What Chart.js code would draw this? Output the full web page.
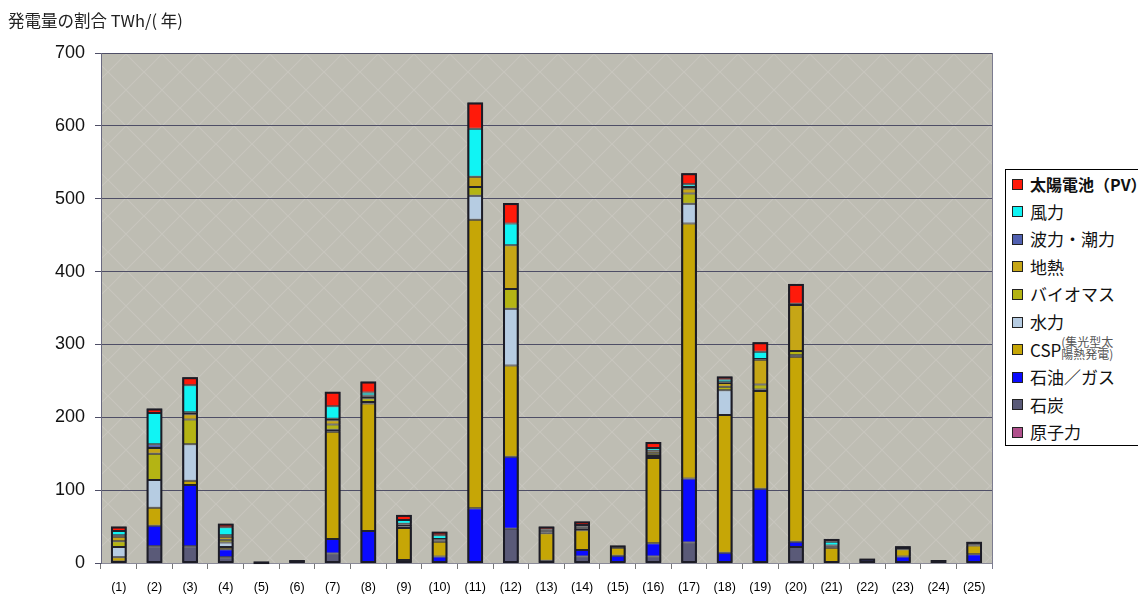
<!DOCTYPE html>
<html lang="ja">
<head>
<meta charset="utf-8">
<script src="https://cdn.jsdelivr.net/npm/chart.js@4.4.1/dist/chart.umd.min.js"></script>
<style>
  html, body { margin: 0; padding: 0; background: #fff; overflow: hidden; }
  #wrap { position: relative; width: 1138px; height: 594px; }
  #chart { position: absolute; left: 0; top: 0; }
  #legend {
    position: absolute; left: 1005px; top: 169px; width: 150px; height: 277px;
    border: 1px solid #000; background: #fff; box-sizing: border-box;
    font-family: "Noto Sans CJK JP", "DejaVu Sans", sans-serif; color: #111;
  }
  .item { position: absolute; left: 0; height: 22px; display: flex; align-items: center; white-space: nowrap; font-size: 17px; line-height: 22px; }
  .sw { width: 9px; height: 9px; border: 1px solid #222; margin-left: 6px; margin-right: 7px; flex: none; }
  .small { display: inline-block; font-size: 12px; line-height: 12px; color: #555; margin-left: 0; position: relative; top: -2px; }
</style>
</head>
<body>
<div id="wrap">
  <canvas id="chart" width="1138" height="594"></canvas>
  <div id="legend"></div>
</div>
<script>
// Categories (regions) along the x axis
const categories = ['(1)','(2)','(3)','(4)','(5)','(6)','(7)','(8)','(9)','(10)','(11)','(12)','(13)',
                    '(14)','(15)','(16)','(17)','(18)','(19)','(20)','(21)','(22)','(23)','(24)','(25)'];

// Generation by source, TWh per year (stacked from the bottom)
const nuclear = [0,0,0,0,0,0,0,0,0,0,0,0,0,0,0,0,0,0,0,0,0,0,0,0,0];
const coal    = [2,23,23,8,1,1,13,0,0,0,0,47,0,9,0,9,28,0,0,22,0,2,0,2,0];
const oilGas  = [0,28,84,11,1,2,20,44,4,9,75,99,3,9,10,18,88,14,102,7,0,3,9,2,12];
const csp     = [6,25,6,3,0,1,147,175,44,20,396,125,38,27,11,117,350,189,134,254,21,1,10,0,12];
const hydro   = [14,38,50,6,0,0,3,2,2,2,33,78,1,2,1,3,27,34,2,2,1,0,0,0,1];
const biomass = [8,36,34,4,0,0,7,5,2,1,12,27,1,2,0,3,14,5,7,6,1,0,0,0,1];
const geo     = [6,8,7,4,0,0,6,3,1,1,14,60,2,1,1,3,7,5,34,63,1,0,2,0,1];
const wave    = [2,5,3,2,0,0,2,1,1,0,0,0,0,0,0,1,2,1,1,0,0,0,0,0,0];
const wind    = [6,43,37,11,0,0,17,4,5,5,66,30,1,2,0,4,4,4,10,2,5,0,0,0,0];
const pv      = [6,6,11,5,0,0,20,15,7,5,36,28,4,5,1,8,15,4,13,27,4,0,2,0,2];

// Y axis tick values
const yTicks = [0,100,200,300,400,500,600,700];

const axisTitle = '発電量の割合 TWh/( 年)';

// Series in stacking order (bottom first)
const series = [
  { label: '原子力',     data: nuclear, color: '#B0508C' },
  { label: '石炭',       data: coal,    color: '#5A5A78' },
  { label: '石油／ガス', data: oilGas,  color: '#0A0AFF' },
  { label: 'CSP',        data: csp,     color: '#C6A606', note: ['(集光型太', '陽熱発電)'] },
  { label: '水力',       data: hydro,   color: '#B6CCE2' },
  { label: 'バイオマス', data: biomass, color: '#B4B414' },
  { label: '地熱',       data: geo,     color: '#C6A616' },
  { label: '波力・潮力', data: wave,    color: '#5060B0' },
  { label: '風力',       data: wind,    color: '#10F4F4' },
  { label: '太陽電池（PV）', data: pv,  color: '#FF1A0A', bold: true }
];

// Plot background with a faint diagonal lattice
function makePattern(ctx) {
  const c = document.createElement('canvas');
  c.width = 36; c.height = 36;
  const g = c.getContext('2d');
  g.fillStyle = '#BEBDB3';
  g.fillRect(0, 0, 36, 36);
  g.strokeStyle = 'rgba(212,211,204,0.4)';
  g.lineWidth = 1.2;
  g.beginPath();
  g.moveTo(0, 0); g.lineTo(36, 36);
  g.moveTo(36, 0); g.lineTo(0, 36);
  g.stroke();
  return ctx.createPattern(c, 'repeat');
}

const plotBg = {
  id: 'plotBg',
  beforeDraw(chart) {
    const { ctx, chartArea: a } = chart;
    ctx.save();
    ctx.fillStyle = makePattern(ctx);
    ctx.fillRect(a.left, a.top, a.right - a.left, a.bottom - a.top);
    ctx.restore();
  },
  afterDatasetsDraw(chart) {
    const { ctx, chartArea: a } = chart;
    const yScale = chart.scales.y;
    ctx.save();
    // outline round each whole stack
    ctx.strokeStyle = '#1C1C26';
    ctx.lineWidth = 2;
    const base = chart.getDatasetMeta(0).data;
    categories.forEach((_, i) => {
      const total = series.reduce((sum, s) => sum + s.data[i], 0);
      if (!total) return;
      const bar = base[i];
      const half = bar.width / 2;
      const top = yScale.getPixelForValue(total);
      const bottom = yScale.getPixelForValue(0);
      ctx.strokeRect(bar.x - half + 1, top + 1, bar.width - 2, Math.max(bottom - top - 2, 0.5));
    });
    // right frame of the plot
    ctx.strokeStyle = '#7C7C90';
    ctx.lineWidth = 1;
    ctx.beginPath();
    ctx.moveTo(a.right + 0.5, a.top);
    ctx.lineTo(a.right + 0.5, a.bottom + 6);
    ctx.stroke();
    ctx.restore();
  },
  afterDraw(chart) {
    const ctx = chart.ctx;
    ctx.save();
    ctx.fillStyle = '#222';
    ctx.font = '16.5px "Noto Sans CJK JP", sans-serif';
    ctx.textBaseline = 'alphabetic';
    ctx.fillText(axisTitle, 8, 27);
    ctx.restore();
  }
};

const chart = new Chart(document.getElementById('chart'), {
  type: 'bar',
  data: {
    labels: categories,
    datasets: series.map(s => ({
      label: s.label,
      data: s.data,
      backgroundColor: s.color,
      borderColor: '#22222C',
      borderWidth: 1,
      borderSkipped: false,
      barPercentage: 0.44,
      categoryPercentage: 1.0
    }))
  },
  options: {
    responsive: false,
    animation: false,
    layout: { padding: { left: 0, right: 146, top: 53, bottom: 0 } },
    plugins: { legend: { display: false }, tooltip: { enabled: false }, title: { display: false } },
    scales: {
      x: {
        stacked: true,
        afterFit(s) { s.height = 31; },
        grid: { offset: true, drawOnChartArea: false, drawTicks: true, tickLength: 6, color: '#777' },
        border: { display: true, color: '#8A8A98', width: 1 },
        ticks: { color: '#000', font: { family: 'Liberation Sans, Arial, sans-serif', size: 12.5 }, padding: 11, maxRotation: 0, autoSkip: false }
      },
      y: {
        stacked: true,
        min: 0, max: 700,
        afterFit(s) { s.width = 101; },
        afterBuildTicks(s) { s.ticks = yTicks.map(v => ({ value: v })); },
        grid: { color: '#4E4E66', lineWidth: 1, tickLength: 6 },
        border: { display: true, color: '#6A6A80', width: 1 },
        ticks: { color: '#111', font: { family: 'Liberation Sans, Arial, sans-serif', size: 18 }, padding: 10 }
      }
    }
  },
  plugins: [plotBg]
});

// Legend box, top entry is the last stacked series
const legend = document.getElementById('legend');
const rowTop = 3, rowStep = 27.6;
series.slice().reverse().forEach((s, i) => {
  const row = document.createElement('div');
  row.className = 'item';
  row.style.top = (rowTop + i * rowStep) + 'px';
  const sw = document.createElement('span');
  sw.className = 'sw';
  sw.style.background = s.color;
  row.appendChild(sw);
  const t = document.createElement('span');
  t.textContent = s.label;
  if (s.bold) { t.style.fontWeight = 'bold'; t.style.fontSize = '16px'; }
  row.appendChild(t);
  if (s.note) {
    const n = document.createElement('span');
    n.className = 'small';
    n.innerHTML = s.note.join('<br>');
    row.appendChild(n);
  }
  legend.appendChild(row);
});
</script>
</body>
</html>
